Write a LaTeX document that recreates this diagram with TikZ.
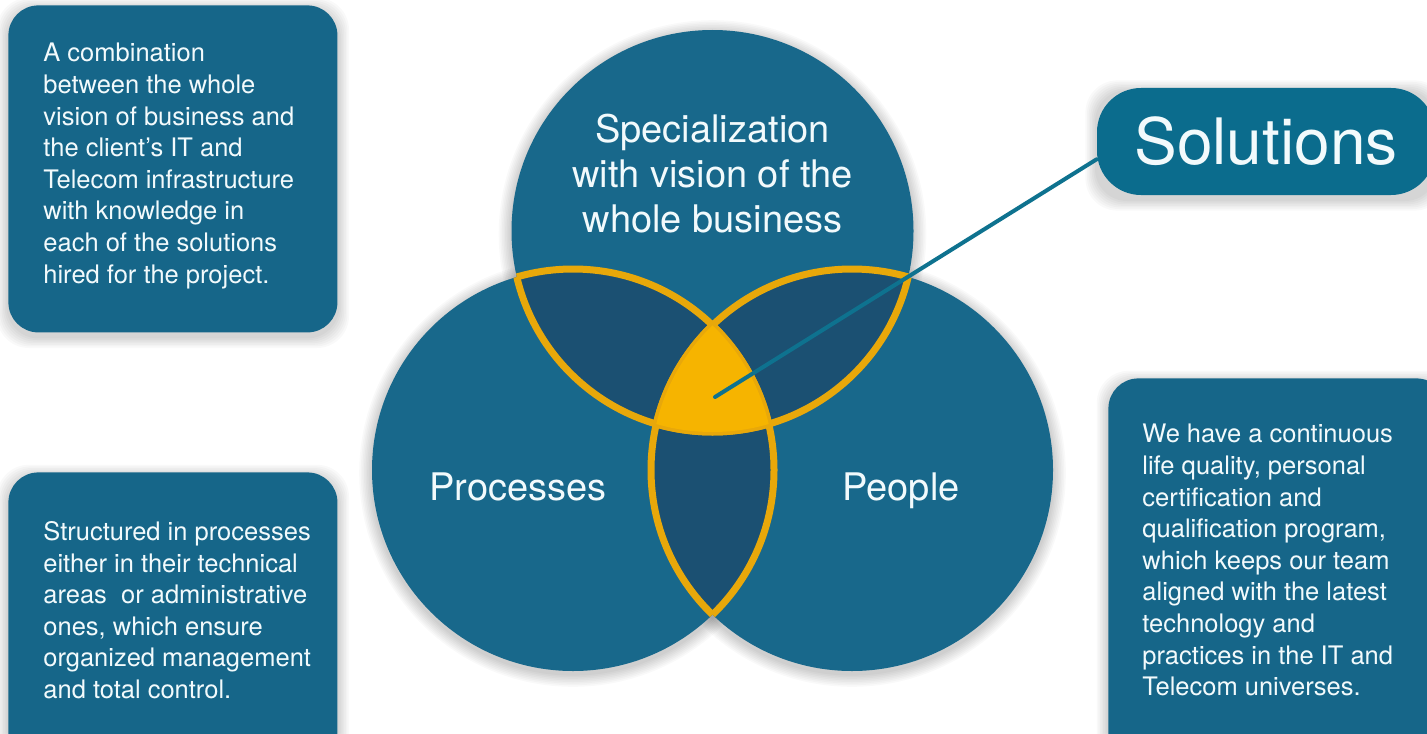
\documentclass[tikz,border=0pt]{standalone}
\usepackage{fontspec}
\setmainfont{TeX Gyre Heros}
\usetikzlibrary{calc,backgrounds}
\definecolor{vennblue}{RGB}{24,104,139}
\definecolor{lensblue}{RGB}{27,80,114}
\definecolor{noteblue}{RGB}{22,102,137}
\definecolor{solblue}{RGB}{11,108,141}
\definecolor{leadblue}{RGB}{14,114,143}
\definecolor{gold}{RGB}{246,180,0}
\definecolor{goldrim}{RGB}{232,168,10}
\definecolor{paper}{RGB}{242,250,252}

\begin{document}
\begin{tikzpicture}[x=0.5pt,y=-0.5pt,
  venn/.style={circle, fill=vennblue, minimum size=201pt, inner sep=0pt},
  venntext/.style={text=paper, align=center, inner sep=0pt, font=\fontsize{19pt}{22.5pt}\selectfont},
  note/.style={fill=noteblue, rounded corners=15pt, anchor=north west, inner sep=0pt},
  notetext/.style={text=paper, align=left, anchor=north west, inner sep=0pt, font=\fontsize{12.75pt}{15.8pt}\selectfont},
  rim/.style={draw=goldrim, line width=3.5pt},
  lead/.style={draw=leadblue, line width=2pt, line cap=round}]
		\useasboundingbox (0,0) rectangle (1427,733);
		
		% the three circles
		\node[venn] (cspec) at (712.5,231) {};
		\node[venn] (cproc) at (573,470) {};
		\node[venn] (cpeople) at (852,470) {};
		
		% overlaps
		\begin{scope}
		\clip (cspec.center) circle[radius=201];
		\fill[lensblue] (cproc.center) circle[radius=201];
		\fill[lensblue] (cpeople.center) circle[radius=201];
		\end{scope}
		\begin{scope}
		\clip (cproc.center) circle[radius=201];
		\fill[lensblue] (cpeople.center) circle[radius=201];
		\end{scope}
		\foreach \a/\b in {cspec/cproc, cproc/cspec, cspec/cpeople, cpeople/cspec, cproc/cpeople, cpeople/cproc} {
		\begin{scope}
		\clip (\a.center) circle[radius=201];
		\path[rim] (\b.center) circle[radius=201];
		\end{scope}
		}
		\begin{scope}
		\clip (cspec.center) circle[radius=201];
		\clip (cproc.center) circle[radius=201];
		\fill[gold] (cpeople.center) circle[radius=201];
		\end{scope}
		
		\node[venntext, anchor=north] (tspec) at (712.5,114) {Specialization\\with vision of the\\whole business};
		\node[venntext, anchor=base] (tproc) at (518,500) {Processes};
		\node[venntext, anchor=base] (tpeople) at (901,500) {People};
		
		% notes
		\node[note, minimum width=164.5pt, minimum height=163.5pt] (combo) at (8,5) {};
		\node[note, minimum width=164.5pt, minimum height=147pt] (struct) at (8,472) {};
		\node[note, minimum width=169pt, minimum height=194pt] (quality) at (1108,378) {};
		\node[notetext] (tcombo) at (43,43) {A combination\\between the whole\\vision of business and\\the client’s IT and\\Telecom infrastructure\\with knowledge in\\each of the solutions\\hired for the project.};
		\node[notetext] (tstruct) at (43,521) {Structured in processes\\either in their technical\\areas\ \ or administrative\\ones, which ensure\\organized management\\and total control.};
		\node[notetext] (tquality) at (1142,424) {We have a continuous\\life quality, personal\\certification and\\qualification program,\\which keeps our team\\aligned with the latest\\technology and\\practices in the IT and\\Telecom universes.};
		
		\coordinate (hub) at (715,397);
		\node[fill=solblue, rounded corners=22pt, minimum width=169pt, minimum height=53.5pt, inner sep=0pt, text=paper, font=\fontsize{32pt}{38pt}\selectfont] (sol) at (1266,141.5) {Solutions};
		\path[lead] (hub) -- (sol.186);
		
		% soft shadows
		\begin{scope}[on background layer]
		\fill[white] (0,0) rectangle (1427,733);
		\foreach \c in {cspec,cproc,cpeople}
		\foreach \k in {1,...,8}
		\fill[black, opacity=.022] ($(\c.center)+(0,3)$) circle[radius=201+1.6*\k];
		\foreach \b in {combo,struct,quality,sol}
		\foreach \k in {1,...,7}
		\fill[black, opacity=.022, rounded corners=16pt] ([shift={(-1.6*\k,-1.6*\k+4)}]\b.north west) rectangle ([shift={(1.6*\k,1.6*\k+4)}]\b.south east);
		\end{scope}
		\end{tikzpicture}
\end{document}
